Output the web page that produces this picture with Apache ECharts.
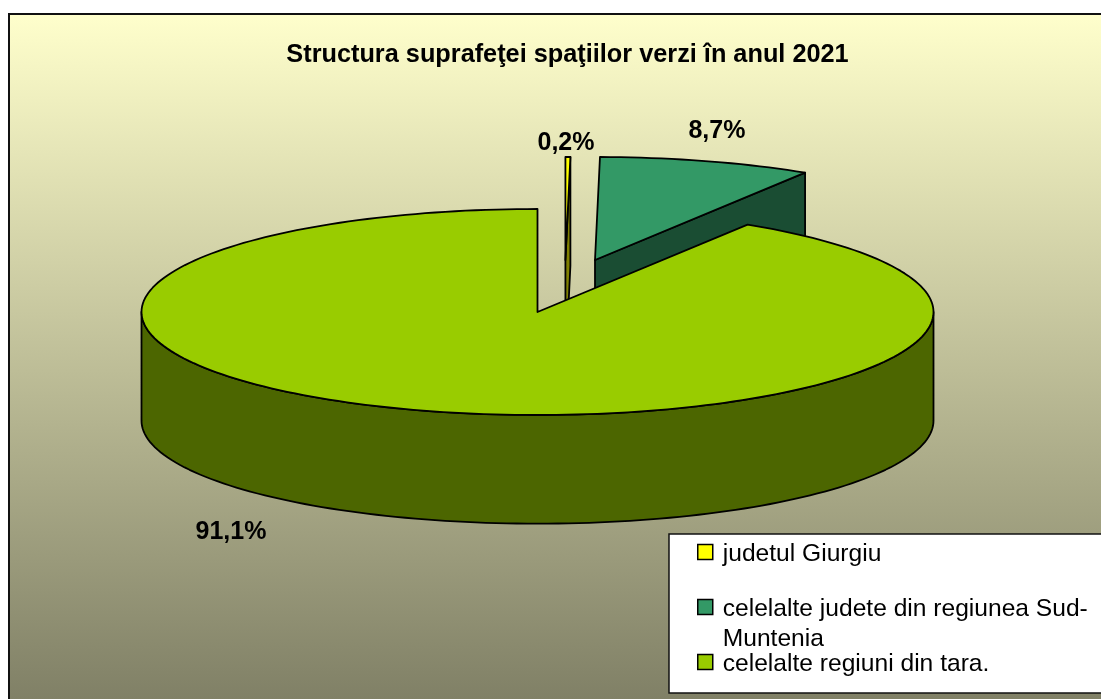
<!DOCTYPE html>
<html>
<head>
<meta charset="utf-8">
<style>html,body{margin:0;padding:0;background:#fff}#c{width:1101px;height:699px}</style>
<script src="https://cdn.jsdelivr.net/npm/echarts@6/dist/echarts.min.js"></script>
</head>
<body>
<div id="c"></div>
<script>
const titleText = 'Structura suprafeţei spaţiilor verzi în anul 2021';
const categories = ['judetul Giurgiu', 'celelalte judete din regiunea Sud-Muntenia', 'celelalte regiuni din tara.'];
const legendLines = [['judetul Giurgiu'], [' ', 'celelalte judete din regiunea Sud-', 'Muntenia'], ['celelalte regiuni din tara.']];
const values = [0.2, 8.7, 91.1];
const percentLabels = ['0,2%', '8,7%', '91,1%'];
const topColors = ['#FFFF00', '#339966', '#99CC00'];
const wallColors = ['#808000', '#1A4D33', '#4C6600'];
// explosion of each slice, in units of the pie radius (x, y)
const explodeX = [0.0705, 0.1452, 0];
const explodeY = [0.505, 0.505, 0];
// label anchor, in units of the pie radius
const labelX = [0.072, 0.453, -0.774];
const labelY = [1.64, 1.76, -2.14];
const DEPTH = 1.055; // pie thickness, in units of the vertical radius
const STEP = 1.5;    // degrees between rim vertices

const chart = echarts.init(document.getElementById('c'), null, {renderer: 'canvas'});

const starts = [];
values.reduce((acc, v, i) => { starts[i] = acc; return acc + v; }, 0);

function rim(a0, a1) {
  const n = Math.max(1, Math.ceil((a1 - a0) / STEP));
  const out = [];
  for (let k = 0; k <= n; k++) out.push(a0 + (a1 - a0) * k / n);
  return out;
}
const rad = a => a * Math.PI / 180;

function makeRenderItem(i) {
  return function (params, api) {
    const value = api.value(0), start = api.value(1);
    const a0 = start * 3.6, a1 = (start + value) * 3.6;
    const ox = explodeX[i], oy = explodeY[i];
    const P = (a, drop) => api.coord([ox + Math.sin(rad(a)), oy + Math.cos(rad(a)) - (drop ? DEPTH : 0)]);
    const C = drop => api.coord([ox, oy - (drop ? DEPTH : 0)]);
    const edge = {stroke: '#000', lineWidth: 1.8, lineJoin: 'round'};
    const children = [];
    const poly = (points, fill) => children.push({
      type: 'polygon', shape: {points}, style: Object.assign({fill}, edge)
    });
    // cut face at the slice's clockwise end (faces the viewer for the small slices)
    if (i < 2) poly([C(false), P(a1, false), P(a1, true), C(true)], wallColors[i]);
    // outer wall: only the front half of the rim is visible
    const w0 = Math.max(a0, 90), w1 = Math.min(a1, 270);
    if (w1 > w0) {
      const arc = rim(w0, w1);
      poly(arc.map(a => P(a, false)).concat(arc.slice().reverse().map(a => P(a, true))), wallColors[i]);
    }
    // top face
    poly([C(false)].concat(rim(a0, a1).map(a => P(a, false))), topColors[i]);
    // percent label
    const t = api.coord([labelX[i], labelY[i]]);
    children.push({
      type: 'text', x: t[0], y: t[1],
      style: {text: percentLabels[i], fill: '#000', font: 'bold 25px "Liberation Sans", Arial, sans-serif', align: 'center', verticalAlign: 'middle'}
    });
    return {type: 'group', children};
  };
}

chart.setOption({
  animation: false,
  backgroundColor: '#fff',
  title: {
    text: titleText, left: 562.5, top: 38, textAlign: 'center',
    textStyle: {fontFamily: '"Liberation Sans", Arial, sans-serif', fontWeight: 'bold', fontSize: 25.3, color: '#000'}
  },
  graphic: [{
    type: 'rect', z: -10, silent: true,
    shape: {x: 9, y: 14, width: 1200, height: 800},
    style: {
      stroke: '#111', lineWidth: 2,
      fill: {type: 'linear', x: 0, y: 0, x2: 0, y2: 685 / 800, global: false,
             colorStops: [{offset: 0, color: '#FFFFCC'}, {offset: 1, color: '#808066'}]}
    }
  }],
  grid: {left: 141.5, width: 792, top: 209, height: 206, containLabel: false},
  xAxis: {type: 'value', min: -1, max: 1, show: false},
  yAxis: {type: 'value', min: -1, max: 1, show: false},
  legend: {
    left: 669, top: 534, orient: 'vertical',
    data: categories,
    padding: [3, 40, 16, 28],
    itemGap: -5, itemWidth: 15, itemHeight: 15, icon: 'rect',
    backgroundColor: '#fff', borderColor: '#111', borderWidth: 1.5,
    selectedMode: false,
    formatter: name => legendLines[categories.indexOf(name)].map(s => '{a|' + s + '}').join('\n'),
    textStyle: {
      fontFamily: '"Liberation Sans", Arial, sans-serif', fontSize: 24.6, lineHeight: 30, color: '#000',
      rich: {a: {fontFamily: '"Liberation Sans", Arial, sans-serif', fontSize: 24.6, lineHeight: 30, height: 26, color: '#000', padding: [4, 0, 0, 5]}}
    },
    itemStyle: {borderColor: '#000', borderWidth: 1.5}
  },
  series: categories.map((name, i) => ({
    type: 'custom', name, clip: false, silent: true,
    coordinateSystem: 'cartesian2d',
    itemStyle: {color: topColors[i]},
    renderItem: makeRenderItem(i),
    encode: {x: 0, y: 1},
    data: [[values[i], starts[i]]]
  }))
});
</script>
</body>
</html>
